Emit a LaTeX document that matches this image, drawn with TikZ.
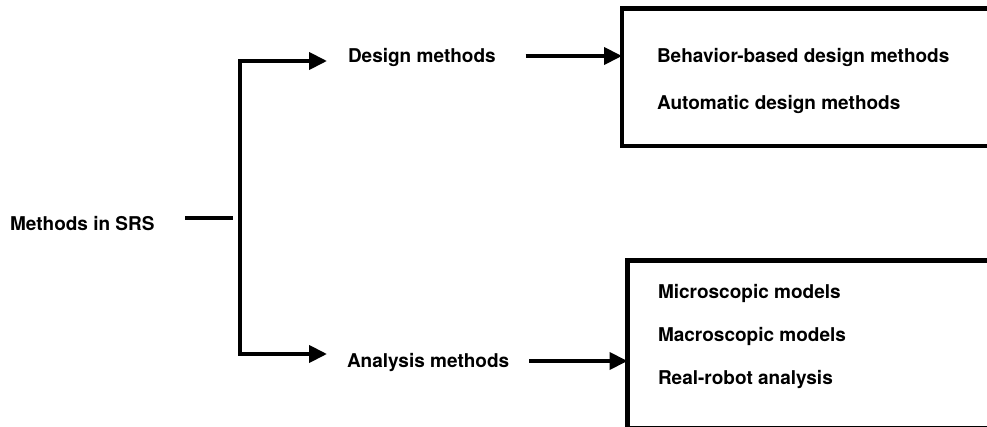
\documentclass[tikz,border=0pt]{standalone}
\usepackage{fontspec}
\setmainfont{TeX Gyre Heros}
\usetikzlibrary{arrows.meta}

\tikzset{
  lbl/.style={font=\fontsize{19}{22}\selectfont\bfseries, inner sep=0pt, outer sep=0pt,
              text height=13.6pt, text depth=0pt, anchor=west},
  conn/.style={line width=4pt},
  arr/.style={conn, -{Triangle[length=18pt,width=17pt]}},
  listbox/.style={draw, line width=4.5pt, outer sep=0pt, inner sep=0pt, anchor=north west}
}

\begin{document}
\begin{tikzpicture}[x=1pt,y=-1pt]
  \useasboundingbox (0,0) rectangle (987,427);
  \fill[white] (0,0) rectangle (987,427);
  \clip (0,0) rectangle (987,427);

  % labels
  \node[lbl] (srs) at (10,223.5) {Methods in SRS};
  \node[lbl] (design) at (348,56) {Design methods};
  \node[lbl] (analysis) at (347,361) {Analysis methods};

  % boxes listing the sub-methods (they run past the page edge)
  \node[listbox, minimum width=400pt, minimum height=137.5pt] (topbox) at (622,8.5) {};
  \node[listbox, minimum width=400pt, minimum height=167.6pt] (botbox) at (627.5,260.5) {};

  \node[lbl] (behav) at (657,56) {Behavior-based design methods};
  \node[lbl] (auto) at (657,102.5) {Automatic design methods};
  \node[lbl] (micro) at (658,291.5) {Microscopic models};
  \node[lbl] (macro) at (658,335) {Macroscopic models};
  \node[lbl] (real) at (658,377.5) {Real-robot analysis};

  % fork from the root label
  \coordinate (stubL) at (185,218);
  \coordinate (stubR) at (233,218);
  \coordinate (forktop) at (240,61);
  \coordinate (forkbot) at (240,354);
  \coordinate (tipA) at (327,61);
  \coordinate (tipB) at (327,354);

  \draw[conn] (stubL) -- (stubR);
  \draw[arr] (forkbot) |- (tipA);
  \draw[arr] (forktop) |- (tipB);

  % arrows into the boxes
  \draw[arr] ([xshift=30pt]design.east) -- (design.east -| topbox.west);
  \draw[arr] ([xshift=20pt]analysis.east) -- (analysis.east -| botbox.west);
\end{tikzpicture}
\end{document}
